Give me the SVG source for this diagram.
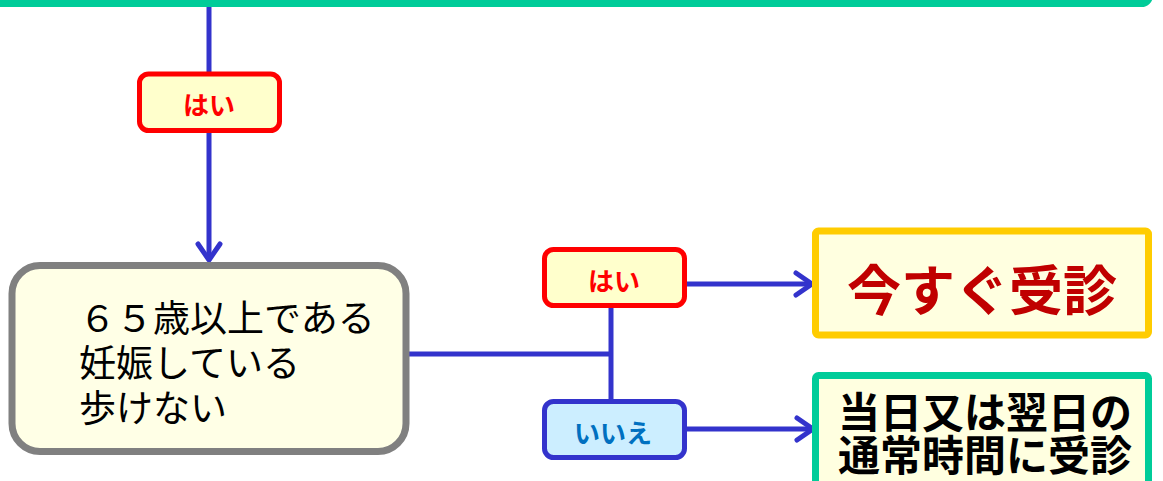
<svg xmlns="http://www.w3.org/2000/svg" width="1163" height="481" viewBox="0 0 1163 481">
<style>
text{font-family:"Noto Sans CJK JP","Noto Sans",sans-serif}
.lbl{font-size:26px;font-weight:bold;text-anchor:middle;dominant-baseline:central}
.yes rect{fill:#ffffcc;stroke:#ff0000;stroke-width:5}
.yes text{fill:#ff0000}
.no rect{fill:#cceeff;stroke:#3333cc;stroke-width:5}
.no text{fill:#0070c0}
.conn{stroke:#3333cc;stroke-width:5;fill:none}
</style>
<defs>
<marker id="arr" markerUnits="userSpaceOnUse" viewBox="-20 -14 24 28" refX="0" refY="0" markerWidth="24" markerHeight="28" orient="auto" overflow="visible">
<path d="M-16,-11 L0,0 L-16,11" fill="none" stroke="#3333cc" stroke-width="5" stroke-linecap="round" stroke-linejoin="round"/>
</marker>
</defs>
<g id="top-node">
<rect x="-20" y="-100" width="1169.5" height="103.5" rx="8" fill="#ffffe0" stroke="#00cc99" stroke-width="7"/>
</g>
<g id="connectors" class="conn">
<line x1="209" y1="7" x2="209" y2="74"/>
<line x1="209" y1="131" x2="209" y2="260" marker-end="url(#arr)"/>
<line x1="406" y1="354" x2="611" y2="354"/>
<line x1="611" y1="305" x2="611" y2="402"/>
<line x1="684" y1="284" x2="812" y2="284" marker-end="url(#arr)"/>
<line x1="684" y1="429" x2="813" y2="429" marker-end="url(#arr)"/>
</g>
<g id="yes1" class="yes">
<rect x="139.5" y="74" width="140" height="56.5" rx="9"/>
<text class="lbl" x="209" y="103">はい</text>
</g>
<g id="question">
<rect x="12" y="265.5" width="394" height="186" rx="28" fill="#ffffe6" stroke="#808080" stroke-width="7"/>
<text font-size="37" fill="#000" dominant-baseline="central"><tspan x="79" y="316">６５歳以上である</tspan><tspan x="79" y="361">妊娠している</tspan><tspan x="79" y="406">歩けない</tspan></text>
</g>
<g id="yes2" class="yes">
<rect x="544.5" y="249.5" width="140" height="56" rx="9"/>
<text class="lbl" x="614" y="279">はい</text>
</g>
<g id="no" class="no">
<rect x="544.5" y="401.5" width="140" height="56" rx="9"/>
<text class="lbl" x="613" y="431">いいえ</text>
</g>
<g id="now">
<rect x="815.5" y="231" width="333" height="104" rx="3" fill="#ffffe0" stroke="#ffcc00" stroke-width="7"/>
<text x="982" y="287" font-size="54" font-weight="bold" fill="#c00000" text-anchor="middle" dominant-baseline="central">今すぐ受診</text>
</g>
<g id="later">
<rect x="815.5" y="375.5" width="333" height="115" rx="3" fill="#ffffe0" stroke="#00cc99" stroke-width="7"/>
<text font-size="42" font-weight="bold" fill="#000" text-anchor="middle" dominant-baseline="central"><tspan x="985" y="409">当日又は翌日の</tspan><tspan x="985" y="452">通常時間に受診</tspan></text>
</g>
</svg>
